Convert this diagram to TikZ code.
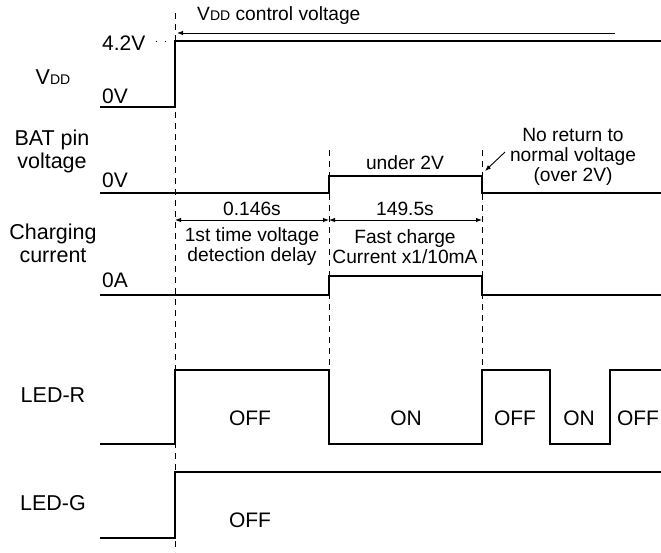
\documentclass[tikz,border=0pt]{standalone}
\usepackage{fontspec}
\setmainfont{Liberation Sans}
\usetikzlibrary{arrows.meta,positioning,calc}
\tikzset{
  tm/sig/.style={line width=2.5pt, line join=miter},
  tm/mark/.style={line width=1pt, dash pattern=on 6pt off 5pt},
  tm/dim/.style={line width=0.9pt, {Latex[length=6pt,width=4.5pt]}-{Latex[length=6pt,width=4.5pt]}},
  tm/note/.style={line width=0.9pt, -{Latex[length=6pt,width=4.5pt]}},
  tm/name/.style={align=center, font=\fontsize{21.5}{23}\selectfont, inner sep=0pt},
  tm/level/.style={anchor=west, font=\fontsize{21}{22}\selectfont, inner sep=0pt},
  tm/txt/.style={align=center, font=\fontsize{19.2}{20}\selectfont, inner sep=0pt},
  tm/state/.style={font=\fontsize{21}{22}\selectfont, inner sep=0pt}
}
\newcommand{\vdd}{V{\fontsize{14}{14}\selectfont DD}}

\begin{document}
\begin{tikzpicture}[x=1pt, y=-1pt]
\useasboundingbox (0,0) rectangle (661,552);
% time marks
\coordinate (m0top) at (175,13);  \coordinate (m0bot) at (175,552);
\coordinate (m1top) at (329,150); \coordinate (m1bot) at (329,370);
\coordinate (m2top) at (482,150); \coordinate (m2bot) at (482,370);
\draw[tm/mark] (m0top) -- (m0bot);
\draw[tm/mark] (m1top) -- (m1bot);
\draw[tm/mark] (m2top) -- (m2bot);
% signal names
\node[tm/name] (nvdd) at (53,77) {\vdd};
\node[tm/name] (nbat) at (52,151) {BAT pin\\voltage};
\node[tm/name] (ncur) at (53,243) {Charging\\current};
\node[tm/name] (nledr) at (53,395) {LED-R};
\node[tm/name] (nledg) at (53,503) {LED-G};
% levels
\node[tm/level] (l42) at (102,43) {4.2V};
\node[tm/level] (l0v) at (102,96) {0V};
\node[tm/level] (lbat) at (102,180) {0V};
\node[tm/level] (lcur) at (102,280) {0A};
\draw[line width=1pt, dash pattern=on 1pt off 8pt] (l42.east) ++(10,-2) -- (175,41);
% waveforms
\draw[tm/sig] (100,107) -| (175,41) -- (661,41);
\draw[tm/sig] (100,193) -| (329,176) -| (482,193) -- (661,193);
\draw[tm/sig] (100,295) -| (329,276) -| (482,295) -- (661,295);
\draw[tm/sig] (100,444) -| (175,370) -| (329,444) -| (482,370) -| (550,444) -| (610,370) -- (661,370);
\draw[tm/sig] (100,538) -| (175,472) -- (661,472);
% control voltage
\coordinate (cvend) at (615,33);
\coordinate (cvtip) at (177,33);
\draw[tm/note] (cvend) -- (cvtip);
\node[tm/txt, anchor=west] (cv) at (197,16) {\vdd{} control voltage};
% BAT notes
\node[tm/txt] (under) at (405,163) {under 2V};
\node[tm/txt] (noret) at (573,157) {No return to\\normal voltage\\(over 2V)};
\coordinate (nrfrom) at (505,152);
\coordinate (nrto) at (485,171);
\draw[tm/note] (nrfrom) -- (nrto);
% durations
\coordinate (d0) at (175,220); \coordinate (d1) at (329,220); \coordinate (d2) at (482,220);
\draw[tm/dim] (d0) -- (d1);
\draw[tm/dim] (d1) -- (d2);
\node[tm/txt] (t146) at (252,209) {0.146s};
\node[tm/txt] (tdly) at (252,247) {1st time voltage\\detection delay};
\node[tm/txt] (t1495) at (405,209) {149.5s};
\node[tm/txt] (tfast) at (405,247) {Fast charge\\Current x1/10mA};
% LED states
\node[tm/state] (r1) at (250,418) {OFF};
\node[tm/state] (r2) at (406,418) {ON};
\node[tm/state] (r3) at (515,418) {OFF};
\node[tm/state] (r4) at (579,418) {ON};
\node[tm/state] (r5) at (638,418) {OFF};
\node[tm/state] (g1) at (250,520) {OFF};
\end{tikzpicture}
\end{document}
